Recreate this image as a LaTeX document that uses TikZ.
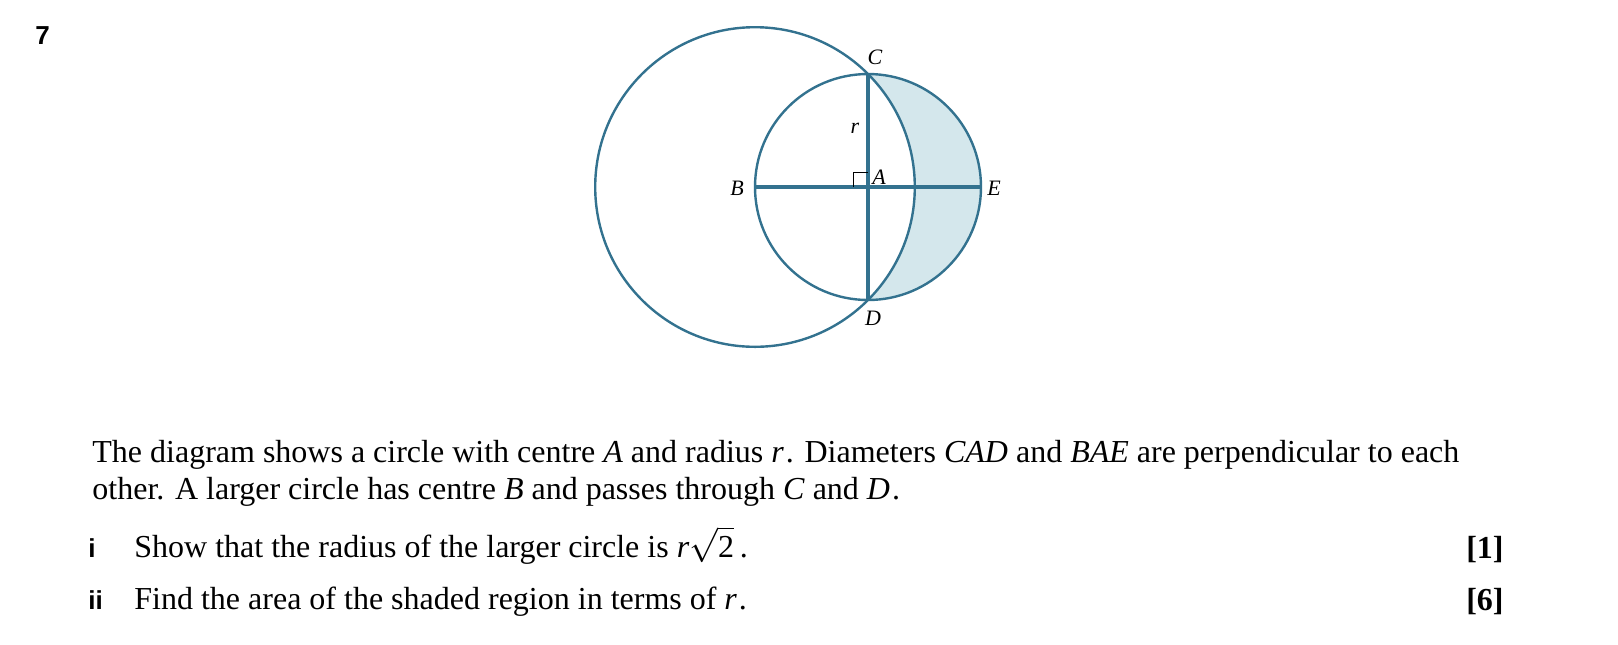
\documentclass[tikz,border=0pt]{standalone}
\usepackage{fontspec}
\setmainfont{Liberation Serif}
\newfontfamily\qsans{Liberation Sans}
\definecolor{geo}{HTML}{33728F}
\definecolor{crescentfill}{HTML}{D4E7EC}
\tikzset{
  txt/.style={inner sep=0pt, anchor=base west, font=\fontsize{16}{18.5}\selectfont},
  lbl/.style={inner sep=0pt, font=\fontsize{11}{13}\selectfont\itshape},
  num/.style={inner sep=0pt, anchor=base west, font=\fontsize{13}{15}\selectfont\qsans\bfseries},
  marksbox/.style={inner sep=0pt, anchor=base east, font=\fontsize{16}{17}\selectfont\bfseries},
  circ/.style={draw=geo, line width=1.2pt},
  diam/.style={draw=geo, line width=1.6pt},
}
\begin{document}
\begin{tikzpicture}[x=0.5pt,y=-0.5pt]
\useasboundingbox (0,0) rectangle (1618,644);
\coordinate (A) at (868,187);
\coordinate (B) at (755,187);
\coordinate (C) at (868,74);
\coordinate (D) at (868,300);
\coordinate (E) at (981,187);
% shaded crescent
\begin{scope}
  \clip (A) circle [radius=56.5pt];
  \fill[crescentfill, even odd rule] (A) circle [radius=56.5pt] (B) circle [radius=79.9pt];
\end{scope}
\draw[circ] (B) circle [radius=79.9pt];
\draw[circ] (A) circle [radius=56.5pt];
\draw[diam] (B) -- (E);
\draw[diam] (C) -- (D);
\draw[line width=0.5pt] (853,187) -- (853,172) -- (868,172);
\node[lbl] (lC) at (875,57) {C};
\node[lbl] (lD) at (873,318) {D};
\node[lbl] (lB) at (737,188) {B};
\node[lbl] (lA) at (879,177) {A};
\node[lbl] (lE) at (994,188) {E};
\node[lbl] (lr) at (855,128) {r};
% text
\node[num] (n7) at (35,44) {7};
\node[txt, align=left] (t1) at (92,499) {The diagram shows a circle with centre \textit{A} and radius \textit{r}\kern1pt. Diameters \textit{CAD} and \textit{BAE} are perpendicular to each\\other. A larger circle has centre \textit{B} and passes through \textit{C} and \textit{D}\kern1pt.};
\node[num] (ni) at (88,557) {i};
\node[txt] (q1) at (134,557) {Show that the radius of the larger circle is \textit{r}$\sqrt{\mbox{2}}\,$.};
\node[marksbox] (m1) at (1504,558) {[1]};
\node[num] (nii) at (88,609) {ii};
\node[txt] (q2) at (134,609) {Find the area of the shaded region in terms of \textit{r}\kern1pt.};
\node[marksbox] (m2) at (1504,610) {[6]};
\end{tikzpicture}
\end{document}
